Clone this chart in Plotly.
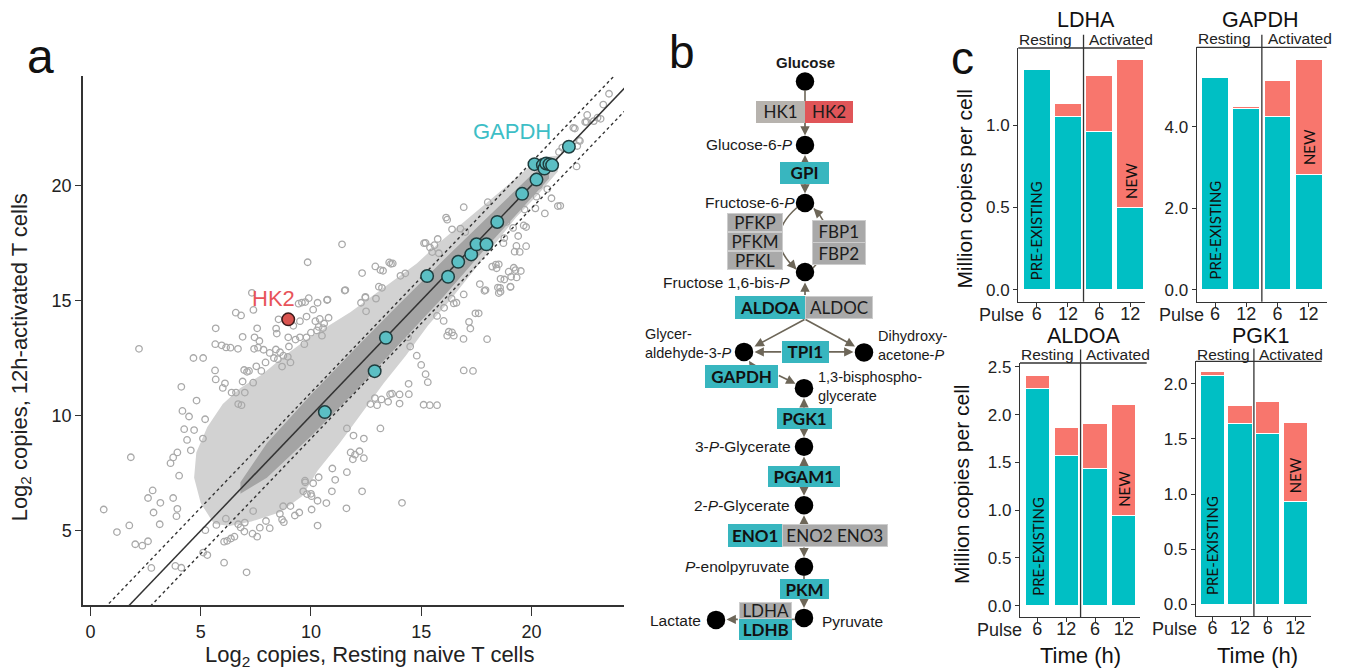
import plotly.graph_objects as go

W, H = 1353, 672
SANS = "Liberation Sans, Arial, Helvetica, sans-serif"
BOXF = "Lato, Open Sans, sans-serif"
INK = "#222222"
AXC = "#333333"

# ---------------- Panel a : scatter data (log2 copies) ----------------
grey_x = [
    4.12, 4.81, 4.17, 4.47, 4.25, 4.70, 5.20, 4.38, 4.55, 3.94,
    3.75, 3.63, 1.83, 4.02, 2.82, 2.61, 3.17, 0.60, 3.75, 3.94,
    3.90, 3.14, 1.76, 1.20, 2.03, 2.35, 2.61, 2.76, 3.85, 5.11,
    5.30, 6.06, 7.08, 5.21, 6.20, 6.37, 6.98, 7.35, 7.68, 7.96,
    8.74, 9.27, 9.47, 9.73, 9.65, 10.03, 10.03, 8.77, 8.59, 7.38,
    7.00, 6.70, 5.71, 6.14, 11.41, 9.85, 7.32, 9.59, 9.74, 9.44,
    6.59, 6.83, 7.39, 8.53, 8.42, 8.45, 10.73, 11.53, 12.32, 12.92,
    13.27, 13.63, 12.47, 13.22, 10.20, 10.40, 10.60, 10.35, 10.55, 10.80,
    5.66, 5.95, 6.35, 6.69, 4.67, 5.65, 5.10, 7.44, 7.42, 7.60,
    7.85, 6.97, 7.10, 7.52, 6.00, 6.40, 6.60, 7.00, 6.70, 6.85,
    8.97, 9.30, 9.50, 9.80, 9.00, 8.60, 8.75, 8.95, 8.50, 10.27,
    10.50, 23.52, 23.26, 23.14, 22.83, 22.50, 22.20, 22.08, 21.90, 21.40,
    21.25, 22.05, 20.91, 21.20, 20.72, 20.23, 20.34, 19.69, 19.65, 19.76,
    19.40, 19.32, 19.47, 19.20, 18.97, 19.08, 19.28, 18.52, 18.22, 18.42,
    19.05, 18.60, 18.52, 17.87, 17.66, 16.93, 16.18, 16.40, 16.78, 17.00,
    15.20, 15.40, 15.60, 15.80, 15.50, 13.71, 13.15, 14.28, 14.06, 18.87,
    19.17, 18.02, 11.56, 10.75, 12.47, 17.92, 18.60, 19.05, 16.93, 16.48,
    17.46, 17.61, 17.23, 17.99, 16.40, 16.25, 16.18, 16.48, 16.02, 15.72,
    16.93, 15.11, 15.39, 15.72, 14.43, 13.68, 14.02, 14.02, 13.15, 12.32,
    14.13, 11.63, 11.10, 10.95, 11.80, 12.00, 12.20, 12.40, 11.90, 11.63,
    11.93, 9.74, 10.00, 10.30, 10.70, 12.90, 13.20, 13.50, 12.70, 13.00,
    14.40, 14.50, 14.80, 15.00, 15.20, 15.30, 2.20, 2.86, 4.12, 17.35,
    18.77, 18.48, 21.31, 22.16, 22.44, 21.97, 23.00, 22.53, 16.13, 13.08,
    12.95, 12.50, 12.27, 13.55, 15.13, 15.75, 14.72, 17.17, 16.92, 16.60,
    16.38, 16.04, 18.39, 19.52, 19.33, 18.58, 19.24, 19.76, 18.73, 18.77,
    20.18, 20.61, 13.59, 14.44, 10.10, 9.82, 10.35, 8.69, 9.07, 7.56,
    8.13, 6.53, 6.81, 6.06, 5.68, 6.10, 6.90, 7.19, 7.38, 7.75,
    7.94, 8.32, 8.69, 9.07, 9.70, 10.00, 7.66, 8.13, 8.41, 6.90,
    7.56, 6.15, 5.11, 5.68, 9.20, 9.50, 9.80, 10.10, 10.30, 9.90,
    11.61, 10.30, 10.97, 12.40,
]
grey_y = [
    11.25, 10.65, 10.20, 9.96, 9.41, 9.37, 9.84, 8.94, 8.49, 8.40,
    8.18, 7.93, 8.19, 7.39, 6.75, 6.42, 6.21, 5.92, 6.42, 5.95,
    5.63, 5.28, 5.23, 4.94, 4.41, 4.35, 4.54, 3.38, 3.47, 4.05,
    3.94, 3.61, 3.19, 5.02, 4.56, 4.66, 4.96, 4.87, 5.13, 5.42,
    6.06, 5.66, 5.79, 7.17, 6.71, 6.50, 5.92, 5.37, 5.73, 5.85,
    5.35, 5.28, 5.25, 5.52, 17.44, 16.66, 15.33, 14.91, 14.93, 14.86,
    14.47, 14.35, 14.59, 14.18, 13.78, 13.56, 15.02, 15.43, 16.19, 16.48,
    16.29, 16.59, 15.12, 15.55, 14.10, 14.20, 14.00, 13.85, 13.80, 14.25,
    13.10, 13.05, 12.95, 12.90, 12.50, 11.96, 9.00, 13.40, 12.90, 12.95,
    12.86, 11.98, 11.90, 12.14, 11.20, 11.00, 11.00, 11.00, 10.50, 10.45,
    13.40, 13.30, 13.40, 13.40, 13.00, 12.75, 12.60, 12.55, 12.45, 13.70,
    13.47, 23.98, 23.51, 22.89, 22.79, 22.76, 21.93, 21.71, 22.50, 21.64,
    21.45, 20.82, 19.44, 19.10, 19.84, 19.51, 19.99, 18.95, 18.26, 18.19,
    17.80, 17.37, 17.11, 16.42, 16.25, 16.03, 16.32, 16.57, 16.47, 16.40,
    15.60, 15.94, 15.32, 15.42, 15.71, 19.05, 18.51, 18.09, 18.12, 17.97,
    17.50, 17.30, 17.40, 17.05, 17.10, 16.61, 16.32, 16.18, 16.07, 18.41,
    18.15, 19.27, 15.45, 15.04, 15.16, 15.45, 15.38, 15.59, 15.26, 14.87,
    14.44, 14.44, 13.78, 13.32, 13.61, 13.64, 13.47, 13.47, 14.11, 14.33,
    11.96, 10.47, 10.45, 10.45, 11.38, 10.95, 10.92, 10.52, 9.44, 6.71,
    6.21, 7.54, 7.21, 6.71, 8.40, 8.30, 8.45, 8.15, 8.10, 9.44,
    9.13, 7.10, 6.60, 6.30, 6.20, 10.76, 10.70, 10.60, 10.50, 10.45,
    13.40, 13.00, 12.60, 12.20, 11.80, 11.45, 12.90, 5.79, 3.39, 11.94,
    15.91, 15.56, 19.11, 21.96, 22.75, 22.47, 22.94, 23.06, 18.60, 15.60,
    15.08, 14.53, 14.90, 16.65, 17.49, 17.67, 14.17, 14.07, 13.33, 14.90,
    15.08, 14.68, 16.56, 16.28, 16.00, 15.55, 17.12, 17.36, 17.49, 17.71,
    19.00, 18.78, 10.93, 10.93, 7.06, 6.59, 7.32, 5.48, 6.07, 4.74,
    5.11, 4.74, 5.14, 4.52, 11.57, 11.40, 11.48, 11.94, 11.43, 11.94,
    12.31, 12.50, 12.13, 12.31, 13.10, 13.60, 13.24, 12.72, 12.87, 13.42,
    13.79, 12.96, 12.50, 13.79, 13.90, 14.10, 14.30, 14.60, 14.90, 15.10,
    5.97, 5.22, 7.70, 9.00,
]
# outline of the dense cloud of overlapping proteins
cloud_x = [5.6, 5.0, 4.7, 4.8, 5.3, 6.0, 6.8, 7.8, 8.8, 9.8,
           10.8, 11.8, 12.8, 13.8, 14.8, 15.8, 16.8, 17.8, 18.8, 19.8,
           20.4, 21.2, 21.2, 20.3, 19.3, 18.3, 17.3, 16.3, 15.3, 14.3,
           13.3, 12.3, 11.3, 10.3, 9.6, 8.6, 7.3, 6.3]
cloud_y = [5.3, 6.2, 7.3, 8.4, 9.5, 10.5, 11.2, 11.8, 12.6, 13.3,
           13.9, 14.5, 15.2, 15.9, 16.6, 17.5, 18.3, 19.1, 19.9, 20.7,
           21.2, 21.3, 20.6, 19.6, 18.6, 17.4, 16.2, 15.0, 13.9, 12.6,
           11.4, 10.1, 8.8, 7.6, 6.5, 5.8, 5.4, 5.2]
# outline of the saturated core along the diagonal
core_x = [6.8, 8.0, 10.0, 12.0, 14.0, 16.0, 18.0, 20.0, 20.8,
          20.8, 20.0, 18.0, 16.0, 14.0, 12.0, 10.0, 8.0, 6.8]
core_y = [7.1, 8.8, 10.9, 12.9, 14.85, 16.75, 18.6, 20.45, 21.0,
          20.3, 19.45, 17.35, 15.15, 13.1, 11.05, 9.1, 7.3, 6.6]
glyco_x = [10.63, 12.89, 13.40, 15.27, 16.22, 16.68, 17.27, 17.51, 17.96, 18.45,
           19.58, 20.23, 20.14, 20.52, 20.59, 20.67, 20.82, 20.94, 21.70]
glyco_y = [10.15, 11.93, 13.38, 16.06, 16.03, 16.68, 17.00, 17.44, 17.44, 18.41,
           19.63, 20.25, 20.92, 20.88, 20.73, 20.95, 20.92, 20.88, 21.68]
hk2_x = [8.97]
hk2_y = [14.18]
ref_offsets = [0, 1, -1]
ref_span = [-5, 30]
a_xticks = [0, 5, 10, 15, 20]
a_yticks = [5, 10, 15, 20]

# ---------------- Panel c : bar data (million copies per cell) ----------------
sample_pos = [0, 1, 2, 3]
time_ticks = ["6", "12", "6", "12"]
ldha_pre = [1.337, 1.055, 0.962, 0.50]
ldha_new = [0.0, 0.075, 0.338, 0.90]
gapdh_pre = [5.20, 4.45, 4.25, 2.83]
gapdh_new = [0.0, 0.04, 0.88, 2.82]
aldoa_pre = [2.27, 1.57, 1.44, 0.94]
aldoa_new = [0.14, 0.30, 0.47, 1.17]
pgk1_pre = [2.075, 1.64, 1.55, 0.93]
pgk1_new = [0.035, 0.16, 0.285, 0.715]
ldha_ticks = [0, 0.5, 1.0]
gapdh_ticks = [0, 2, 4]
aldoa_ticks = [0, 0.5, 1.0, 1.5, 2.0, 2.5]
pgk1_ticks = [0, 0.5, 1.0, 1.5, 2.0]

# ---------------- Panel b : pathway content ----------------
enzyme_names = ["HK1", "HK2", "GPI", "PFKP", "PFKM", "PFKL", "FBP1", "FBP2",
                "ALDOA", "ALDOC", "TPI1", "GAPDH", "PGK1", "PGAM1", "ENO1",
                "ENO2 ENO3", "PKM", "LDHA", "LDHB"]
enzyme_kind = ["hk1", "red", "hi", "grey", "grey", "grey", "grey", "grey",
               "hi", "grey", "hi", "hi", "hi", "hi", "hi",
               "grey", "hi", "grey", "hi"]

fig = go.Figure()


def P(v):
    return v / W


def Q(v):
    return 1 - v / H


ann = []
shapes = []


def note(**kw):
    kw.setdefault("xanchor", "center")
    kw.setdefault("yanchor", "middle")
    kw.setdefault("showarrow", False)
    ann.append(kw)


# ===== Panel a traces =====
fig.add_trace(go.Scatter(x=cloud_x, y=cloud_y, mode="lines", fill="toself",
                         fillcolor="#d2d2d2", line=dict(width=0),
                         hoverinfo="skip", showlegend=False, xaxis="x", yaxis="y"))
fig.add_trace(go.Scatter(x=grey_x, y=grey_y, mode="markers",
                         marker=dict(symbol="circle-open", size=6.5, color="#a9a9a9",
                                     line=dict(width=1.3)),
                         hoverinfo="skip", showlegend=False, xaxis="x", yaxis="y"))
fig.add_trace(go.Scatter(x=core_x, y=core_y, mode="lines", fill="toself",
                         fillcolor="#a4a4a4", line=dict(width=0),
                         hoverinfo="skip", showlegend=False, xaxis="x", yaxis="y"))
for off in ref_offsets:
    fig.add_trace(go.Scatter(x=ref_span, y=[v + off for v in ref_span], mode="lines",
                             line=dict(color=AXC, width=1.5 if off == 0 else 1.4,
                                       dash="solid" if off == 0 else "dot"),
                             hoverinfo="skip", showlegend=False, xaxis="x", yaxis="y"))
fig.add_trace(go.Scatter(x=glyco_x, y=glyco_y, mode="markers",
                         marker=dict(size=12.5, color="#5bbfc4",
                                     line=dict(color="#1f3d3e", width=1.5)),
                         showlegend=False, xaxis="x", yaxis="y"))
fig.add_trace(go.Scatter(x=hk2_x, y=hk2_y, mode="markers",
                         marker=dict(size=12.5, color="#d9534f",
                                     line=dict(color="#3a1a1a", width=1.5)),
                         showlegend=False, xaxis="x", yaxis="y"))

note(x=19.14, y=22.36, xref="x", yref="y", text="GAPDH",
     font=dict(size=22, color="#3dbec6", family=SANS))
note(x=8.32, y=15.07, xref="x", yref="y", text="HK2",
     font=dict(size=22, color="#e8545a", family=SANS))
note(x=P(370), y=Q(656), xref="paper", yref="paper",
     text="Log<sub>2</sub> copies, Resting naive T cells",
     font=dict(size=22, color=INK, family=SANS))
note(x=P(21), y=Q(355), xref="paper", yref="paper", textangle=-90,
     text="Log<sub>2</sub> copies, 12h-activated T cells",
     font=dict(size=22, color=INK, family=SANS))
for letter, lx, ly, fs in [("a", 40.5, 52, 48), ("b", 682, 47, 46), ("c", 962.5, 53, 46)]:
    note(x=P(lx), y=Q(ly), xref="paper", yref="paper", text=letter,
         font=dict(size=fs, color="#111", family=SANS))

layout_axes = {}
layout_axes["xaxis"] = dict(domain=[P(83), P(624)], range=[-0.34, 24.2], anchor="y",
                            showline=True, linecolor=AXC, linewidth=1.5, ticks="outside",
                            ticklen=9, tickwidth=1.3, tickcolor=AXC, tickvals=a_xticks,
                            tickfont=dict(size=18, color=INK, family=SANS),
                            showgrid=False, zeroline=False)
layout_axes["yaxis"] = dict(domain=[Q(605), Q(72)], range=[1.75, 24.73], anchor="x",
                            showline=True, linecolor=AXC, linewidth=1.5, ticks="outside",
                            ticklen=6, tickwidth=1.3, tickcolor=AXC, tickvals=a_yticks,
                            tickfont=dict(size=18, color=INK, family=SANS),
                            showgrid=False, zeroline=False)

# ===== Panel c =====
TEAL_C = "#00BFC4"
RED_C = "#F8766D"
facets = [
    dict(title="LDHA", pre=ldha_pre, new=ldha_new, ticks=ldha_ticks, ax="2",
         x0=1018.3, x1=1145.0, yt=43.3, yb=299.0, xr=(-0.59, 3.47), yr=(-0.074, 1.47),
         tx=1085.7, ty=15, top_r=1145.0, sep_t=30, lab_y=34.3, pulse_x=1001.7, bw=0.86,
         ylab=(965, 185), time_x=None),
    dict(title="GAPDH", pre=gapdh_pre, new=gapdh_new, ticks=gapdh_ticks, ax="3",
         x0=1196.7, x1=1326.7, yt=42.7, yb=299.0, xr=(-0.59, 3.58), yr=(-0.30, 5.95),
         tx=1260, ty=15, top_r=1326.7, sep_t=30, lab_y=34, pulse_x=1181, bw=0.86,
         ylab=None, time_x=None),
    dict(title="ALDOA", pre=aldoa_pre, new=aldoa_new, ticks=aldoa_ticks, ax="4",
         x0=1020, x1=1140, yt=360.7, yb=616.7, xr=(-0.60, 3.56), yr=(-0.12, 2.54),
         tx=1084, ty=333, top_r=1146.7, sep_t=347, lab_y=352.5, pulse_x=999.2, bw=0.84,
         ylab=(961.7, 483), time_x=1080),
    dict(title="PGK1", pre=pgk1_pre, new=pgk1_new, ticks=pgk1_ticks, ax="5",
         x0=1196, x1=1311, yt=359, yb=615.7, xr=(-0.60, 3.57), yr=(-0.105, 2.203),
         tx=1260, ty=333, top_r=1321.7, sep_t=346, lab_y=352.5, pulse_x=1174.2, bw=0.89,
         ylab=None, time_x=1257.3),
]
for f in facets:
    ax = f["ax"]
    xa, ya = "x" + ax, "y" + ax
    fig.add_trace(go.Bar(x=sample_pos, y=f["pre"], width=f["bw"], marker_color=TEAL_C,
                         marker_line=dict(color="white", width=1), showlegend=False,
                         xaxis=xa, yaxis=ya))
    fig.add_trace(go.Bar(x=sample_pos, y=f["new"], width=f["bw"], marker_color=RED_C,
                         marker_line=dict(color="white", width=1), showlegend=False,
                         xaxis=xa, yaxis=ya))
    layout_axes["xaxis" + ax] = dict(domain=[P(f["x0"]), P(f["x1"])], range=list(f["xr"]),
                                     anchor=ya, showline=True, linecolor=AXC, linewidth=1.3,
                                     ticks="outside", ticklen=4, tickwidth=1.1, tickcolor=AXC,
                                     tickvals=sample_pos, ticktext=time_ticks,
                                     ticklabelstandoff=-9,
                                     tickfont=dict(size=18, color=INK, family=SANS),
                                     showgrid=False, zeroline=False)
    layout_axes["yaxis" + ax] = dict(domain=[Q(f["yb"]), Q(f["yt"])], range=list(f["yr"]),
                                     anchor=xa, showline=True, linecolor=AXC, linewidth=1.3,
                                     ticks="outside", ticklen=4, tickwidth=1.1, tickcolor=AXC,
                                     tickvals=f["ticks"], tickformat=".1f",
                                     tickfont=dict(size=17, color=INK, family=SANS),
                                     showgrid=False, zeroline=False)
    shapes.append(dict(type="line", xref="paper", yref="paper", x0=P(f["x0"]), x1=P(f["top_r"]),
                       y0=Q(f["yt"]), y1=Q(f["yt"]), line=dict(color=AXC, width=1.3)))
    shapes.append(dict(type="line", xref=xa, yref="paper", x0=1.5, x1=1.5,
                       y0=Q(f["yb"]), y1=Q(f["sep_t"]), line=dict(color=AXC, width=1.3)))
    note(x=P(f["tx"]), y=Q(f["ty"]), xref="paper", yref="paper", text=f["title"],
         font=dict(size=21.5, color="#111", family=SANS))
    note(x=P(f["x0"] - 1), y=Q(f["lab_y"]), xref="paper", yref="paper",
         text="Resting", xanchor="left", font=dict(size=15.5, color=INK, family=SANS))
    note(x=1.62, y=Q(f["lab_y"]), xref=xa, yref="paper",
         text="Activated", xanchor="left", font=dict(size=15.5, color=INK, family=SANS))
    note(x=P(f["pulse_x"]), y=Q(f["yb"] + 13), xref="paper", yref="paper",
         text="Pulse", font=dict(size=18, color=INK, family=SANS))
    span = f["yr"][1] - f["yr"][0]
    note(x=sample_pos[0], y=0.03 * span, xref=xa, yref=ya, text="PRE-EXISTING",
         textangle=-90, yanchor="bottom", font=dict(size=15, color="#111", family=BOXF))
    note(x=sample_pos[3], y=f["pre"][3] + 0.027 * span, xref=xa, yref=ya, text="NEW",
         textangle=-90, yanchor="bottom", font=dict(size=15, color="#111", family=BOXF))
    if f["ylab"]:
        note(x=P(f["ylab"][0]), y=Q(f["ylab"][1]), xref="paper", yref="paper",
             text="Million copies per cell", textangle=-90,
             font=dict(size=21, color="#111", family=SANS))
    if f["time_x"]:
        note(x=P(f["time_x"]), y=Q(655), xref="paper", yref="paper",
             text="Time (h)", font=dict(size=22, color="#111", family=SANS))

# ===== Panel b : glycolysis diagram (drawn in a hidden pixel-unit axis pair) =====
XB, YB = "x6", "y6"
layout_axes["xaxis6"] = dict(domain=[P(640), P(935)], range=[640, 935], visible=False,
                             anchor="y6", fixedrange=True)
layout_axes["yaxis6"] = dict(domain=[0, 1], range=[H, 0], visible=False,
                             anchor="x6", fixedrange=True)
ARROW = "#6d6658"
KIND_BG = {"hi": "#38b6bf", "grey": "#a9a9a9", "hk1": "#b7b3ae", "red": "#e05558"}

# diagram geometry (positions of metabolite nodes / enzyme boxes)
met_pos = [(805, 77), (805, 141), (805, 199.5), (805, 269), (744, 349.5), (864, 350),
           (804, 386), (804, 445), (804, 504), (804, 566), (804, 617.5), (716, 619.5)]
box_geom = [(755.7, 805, 96.7, 118.3), (805, 853.3, 96.7, 118.3), (780, 829, 158.3, 180),
            (727.3, 783.3, 210, 228.9), (727.3, 783.3, 228.9, 247.8), (727.3, 783.3, 247.8, 266.7),
            (812.3, 866, 216.7, 239.2), (812.3, 866, 239.2, 261.7),
            (735, 805, 292.7, 316), (805, 873.3, 292.7, 316), (781.7, 828.3, 338.3, 360),
            (705, 778.3, 363.3, 386), (776.7, 831.7, 406, 427.3), (768.3, 840, 465, 486),
            (727.3, 781.7, 522.7, 546), (781.7, 887.3, 522.7, 546), (780, 829, 578.3, 598.3),
            (738.3, 791.7, 601.7, 618.3), (738.3, 791.7, 618.3, 639.3)]
arrow_geom = [(805, 118.3, 805, 131.5), (805, 158.3, 805, 151), (805, 180, 805, 190),
              (805, 292.7, 805, 279.5), (805, 316.5, 754.5, 344), (805, 316.5, 855, 344),
              (781.7, 349.5, 754.5, 349.5), (828.3, 349.5, 853.5, 349.5),
              (752, 363.3, 749, 358.5), (778.3, 373, 795.5, 381.5),
              (804, 406, 804, 396), (804, 427.3, 804, 435.5), (804, 465, 804, 455),
              (804, 486, 804, 494.5), (804, 522.7, 804, 514), (804, 546, 804, 556.5),
              (804, 598.3, 804, 607.5), (738.3, 619, 726.5, 619),
              (792.5, 262, 796.5, 266.5), (818, 209.5, 813.5, 205)]
line_geom = [(805, 86, 805, 96.7), (795, 619, 791.7, 619), (804, 575, 804, 578.3)]
arc_paths = ["M 797,204 Q 762,235 796,266", "M 813,265 Q 843,235 814,205"]

for x0, y0, x1, y1 in line_geom:
    shapes.append(dict(type="line", xref=XB, yref=YB, x0=x0, y0=y0, x1=x1, y1=y1,
                       line=dict(color=ARROW, width=1.6)))
for pth in arc_paths:
    shapes.append(dict(type="path", xref=XB, yref=YB, path=pth,
                       line=dict(color=ARROW, width=1.6)))

fig.add_trace(go.Scatter(x=[p[0] for p in met_pos], y=[p[1] for p in met_pos], mode="markers",
                         marker=dict(size=18.5, color="#000000"), hoverinfo="skip",
                         showlegend=False, xaxis=XB, yaxis=YB))

for x0, y0, x1, y1 in arrow_geom:
    ann.append(dict(x=x1, y=y1, ax=x0, ay=y0, xref=XB, yref=YB, axref=XB, ayref=YB,
                    text="", showarrow=True, arrowhead=2, arrowsize=1.1, arrowwidth=1.7,
                    arrowcolor=ARROW, font=dict(size=1), borderpad=0, standoff=0))

for name, kind, (bx0, bx1, by0, by1) in zip(enzyme_names, enzyme_kind, box_geom):
    bwid = 1 if kind == "grey" else 0
    label = "<b>%s</b>" % name if kind == "hi" else name
    note(x=(bx0 + bx1) / 2, y=(by0 + by1) / 2, xref=XB, yref=YB, text=label,
         width=max(1, bx1 - bx0 - 2 * bwid), height=max(1, by1 - by0 - 2 * bwid),
         bgcolor=KIND_BG[kind], bordercolor="#cdcdcd", borderwidth=bwid, borderpad=0,
         font=dict(size=17, color="#111" if kind == "hi" else "#1c1c1c", family=BOXF))

met_labels = [
    ("<b>Glucose</b>", 805, 57.5, "center", 15),
    ("Glucose-6-<i>P</i>", 795, 141, "right", 15.5),
    ("Fructose-6-<i>P</i>", 796.5, 199, "right", 15.5),
    ("Fructose 1,6-bis-<i>P</i>", 791.5, 280, "right", 15.5),
    ("Glycer-<br>aldehyde-3-<i>P</i>", 643, 341.5, "left", 14.5),
    ("Dihydroxy-<br>acetone-<i>P</i>", 876, 343, "left", 14.5),
    ("1,3-bisphospho-<br>glycerate", 816, 384.5, "left", 14.5),
    ("3-<i>P</i>-Glycerate", 792.5, 445, "right", 15.5),
    ("2-<i>P</i>-Glycerate", 791.5, 504, "right", 15.5),
    ("<i>P</i>-enolpyruvate", 790.5, 566, "right", 15.5),
    ("Pyruvate", 820, 621, "left", 15.5),
    ("Lactate", 703, 620, "right", 15.5),
]
for txt, lx, ly, anc, fs in met_labels:
    note(x=lx, y=ly, xref=XB, yref=YB, text=txt, xanchor=anc, align="left",
         font=dict(size=fs, color="#1a1a1a", family=SANS))

fig.update_layout(width=W, height=H, autosize=False, margin=dict(l=0, r=0, t=0, b=0),
                  paper_bgcolor="white", plot_bgcolor="rgba(0,0,0,0)", showlegend=False,
                  barmode="stack", font=dict(family=SANS, color=INK),
                  annotations=ann, shapes=shapes, **layout_axes)

fig.write_html("out.html", include_plotlyjs=True, config={"displayModeBar": False})
